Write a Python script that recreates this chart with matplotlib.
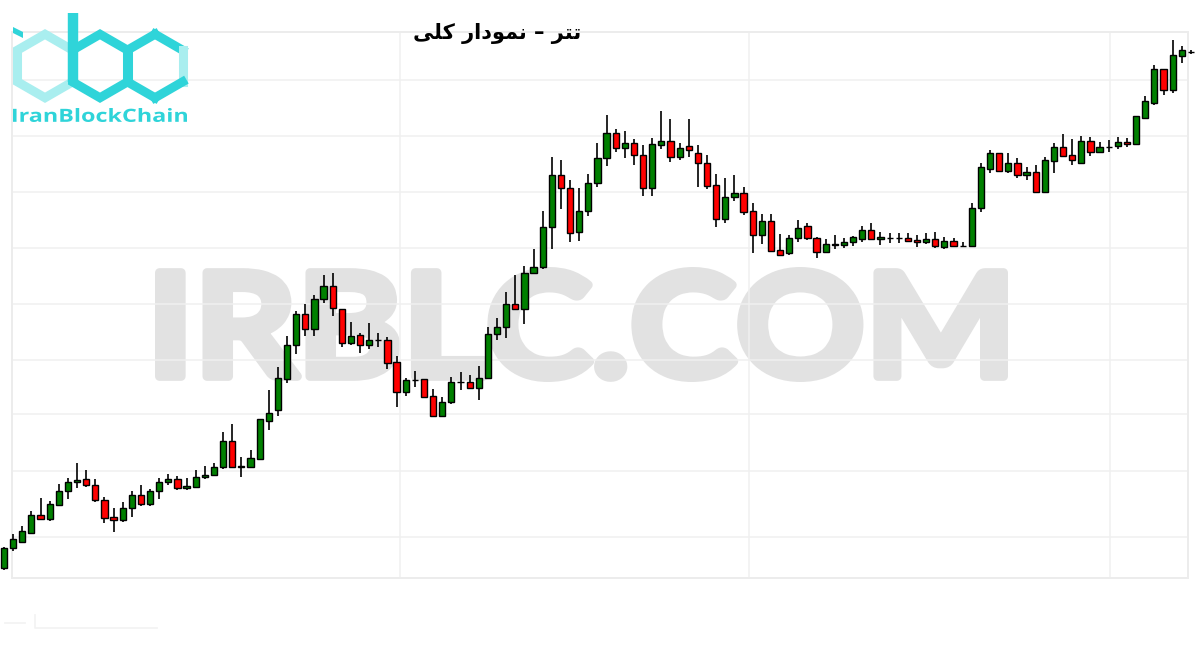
"""
Tether (USDT) overall candlestick chart with IRBLC watermark and logo.
"""

import numpy as np
import matplotlib
matplotlib.use("Agg")
import matplotlib.pyplot as plt
from matplotlib.textpath import TextPath
from matplotlib.font_manager import FontProperties
from matplotlib.patches import PathPatch, Polygon
from matplotlib.transforms import Affine2D

# ============================================================
# data (relative price level)
# ============================================================
opens = [
    32, 52, 58, 67, 85, 81, 95, 109, 118, 121, 115, 100, 83, 80, 92, 105, 96, 109, 118, 121,
    112, 113, 123, 125, 133, 159, 133, 133, 141, 179, 190, 221, 255, 286, 271, 301, 314, 291, 257, 265,
    255, 260, 260, 238, 208, 220, 221, 204, 184, 198, 218, 218, 212, 222, 266, 273, 296, 291, 327, 333,
    373, 425, 412, 368, 389, 417, 442, 467, 452, 457, 445, 412, 455, 459, 443, 454, 447, 437, 415, 381,
    403, 407, 389, 365, 379, 350, 347, 362, 374, 362, 348, 355, 355, 358, 361, 370, 361, 362, 362, 362,
    360, 358, 361, 353, 359, 354, 354, 392, 431, 447, 429, 437, 425, 428, 408, 439, 453, 445, 437, 459,
    448, 453, 454, 458, 456, 482, 497, 531, 510, 544, 548,
]
highs = [
    53, 66, 74, 89, 102, 99, 116, 122, 137, 130, 121, 103, 92, 98, 109, 115, 111, 122, 126, 124,
    122, 130, 134, 137, 168, 176, 143, 150, 181, 210, 233, 264, 289, 296, 305, 325, 327, 291, 278, 267,
    277, 267, 263, 244, 222, 229, 221, 211, 203, 223, 228, 225, 234, 273, 282, 308, 325, 334, 351, 389,
    443, 440, 420, 412, 426, 457, 485, 471, 469, 461, 455, 462, 489, 481, 457, 481, 455, 445, 426, 422,
    425, 413, 397, 386, 386, 366, 365, 380, 377, 363, 361, 365, 362, 364, 374, 377, 368, 367, 367, 367,
    365, 367, 368, 363, 362, 358, 397, 437, 450, 447, 447, 442, 433, 435, 443, 457, 466, 461, 464, 463,
    458, 460, 463, 462, 484, 504, 535, 531, 560, 554, 550,
]
lows = [
    30, 49, 57, 66, 80, 79, 94, 101, 112, 113, 98, 77, 68, 78, 83, 94, 94, 101, 115, 110,
    110, 113, 121, 124, 131, 133, 123, 133, 141, 170, 184, 217, 246, 264, 264, 297, 284, 253, 255, 247,
    251, 253, 231, 193, 204, 213, 202, 183, 183, 196, 210, 211, 200, 221, 260, 262, 291, 276, 327, 331,
    351, 391, 358, 359, 384, 413, 434, 448, 442, 435, 404, 404, 451, 438, 440, 443, 413, 411, 373, 377,
    399, 385, 347, 356, 348, 345, 345, 358, 360, 342, 347, 351, 352, 354, 358, 360, 355, 357, 357, 358,
    353, 356, 352, 351, 353, 353, 353, 388, 427, 429, 427, 422, 420, 407, 408, 427, 443, 435, 436, 444,
    447, 448, 451, 453, 456, 481, 495, 505, 507, 537, 546,
]
closes = [
    52, 61, 69, 85, 81, 96, 109, 118, 120, 115, 100, 82, 80, 92, 105, 96, 109, 118, 121, 112,
    114, 123, 125, 133, 159, 133, 134, 142, 181, 187, 222, 255, 286, 271, 301, 314, 292, 257, 264, 255,
    260, 260, 237, 208, 220, 220, 203, 184, 198, 218, 218, 212, 222, 266, 273, 296, 291, 327, 333, 373,
    425, 412, 367, 389, 417, 442, 467, 452, 457, 445, 412, 456, 459, 443, 452, 450, 437, 414, 381, 403,
    407, 388, 365, 379, 349, 345, 362, 372, 362, 348, 356, 356, 358, 363, 370, 361, 363, 362, 362, 359,
    358, 361, 354, 359, 354, 354, 392, 433, 447, 429, 437, 425, 428, 408, 440, 453, 444, 440, 459, 448,
    453, 453, 458, 456, 484, 499, 531, 510, 545, 550, 548,
]

TITLE = "\uFBFD\uFEE0\uFB90 \uFEAD\uFE8D\uFEA9\uFEEE\uFEE4\uFEE7 \u2013 \uFEAE\uFE98\uFE97"  # تتر – نمودار کلی
WATERMARK = "IRBLC.COM"
LOGO_TEXT = "IranBlockChain"

UP_COLOR = "#008000"
DOWN_COLOR = "#ff0000"
CYAN = "#2fd4d9"
CYAN_LIGHT = "#a9eeef"
GRID_COLOR = "#f0f0f0"
WM_COLOR = "#e2e2e2"

W, H = 1200, 650
X0_PX, STEP_PX = 4.0, 9.13  # candle 0 center / spacing in pixels


def fit_text(ax, s, x0, y0, x1, y1, color, family="DejaVu Sans", weight="bold",
             zorder=1, grow=0.0):
    """Draw s as a path stretched into the pixel box (x0, y0)-(x1, y1) of a y-down axes.
    grow: extra stroke (px) to fatten the glyphs, box is shrunk to compensate."""
    path = TextPath((0, 0), s, size=100, prop=FontProperties(family=family, weight=weight))
    bb = path.get_extents()
    g = grow / 2
    tr = (Affine2D().translate(-bb.x0, -bb.y0)
          .scale((x1 - x0 - grow) / bb.width, -(y1 - y0 - grow) / bb.height)
          .translate(x0 + g, y1 - g))
    ax.add_patch(PathPatch(tr.transform_path(path), fc=color, ec=color if grow else "none",
                           lw=grow * 0.72, joinstyle="round", zorder=zorder))


def pixel_axes(fig, zorder):
    ax = fig.add_axes([0, 0, 1, 1], zorder=zorder)
    ax.set_xlim(0, W)
    ax.set_ylim(H, 0)
    ax.axis("off")
    ax.patch.set_alpha(0)
    return ax


def hexagon(cx, cy, w):
    r = w / np.cos(np.pi / 6)
    return [(cx, cy - r), (cx + w, cy - r / 2), (cx + w, cy + r / 2),
            (cx, cy + r), (cx - w, cy + r / 2), (cx - w, cy - r / 2)]


def draw_logo(ax):
    lw = 6.5
    i_hex = hexagon(45, 66, 27.5)
    ax.add_patch(Polygon(i_hex, closed=True, fill=False, ec=CYAN_LIGHT, lw=lw, joinstyle="miter"))
    b_hex = hexagon(100, 66, 27.5)
    ax.add_patch(Polygon(b_hex, closed=True, fill=False, ec=CYAN, lw=lw, joinstyle="miter"))
    c_hex = hexagon(155, 66, 27.5)
    for k in range(6):
        p, q = c_hex[k], c_hex[(k + 1) % 6]
        col = CYAN_LIGHT if k == 1 else CYAN
        ax.plot([p[0], q[0]], [p[1], q[1]], color=col, lw=lw, solid_capstyle="projecting")
    # stem of the b and dot of the i
    ax.plot([72.5, 72.5], [13, b_hex[4][1]], color=CYAN, lw=lw + 1, solid_capstyle="butt")
    ax.add_patch(Polygon([(13, 27), (23, 32), (23, 38), (13, 33)], closed=True, fc=CYAN, ec="none"))
    fit_text(ax, LOGO_TEXT, 13, 108, 187, 122, CYAN, family="Open Sans", weight="bold")


def main():
    fig = plt.figure(figsize=(W / 100, H / 100), dpi=100)
    fig.patch.set_facecolor("white")

    # watermark (bottom layer)
    ax_wm = pixel_axes(fig, zorder=0)
    fit_text(ax_wm, WATERMARK, 155, 267, 1008, 382, WM_COLOR, family="Lato", weight="bold",
             grow=9)

    # frame + faint grid
    ax_bg = fig.add_axes([12 / W, (H - 578) / H, 1176 / W, 546 / H], zorder=1)
    ax_bg.patch.set_alpha(0)
    ax_bg.set_xlim(12, 1188)
    ax_bg.set_ylim(578, 32)
    ax_bg.set_xticks([400, 749, 1110])
    ax_bg.set_yticks([80, 136, 192, 248, 304, 360, 414, 471, 537])
    ax_bg.tick_params(length=0, labelleft=False, labelbottom=False)
    ax_bg.grid(True, color=GRID_COLOR, lw=1.1)
    for sp in ax_bg.spines.values():
        sp.set_color("#ececec")
        sp.set_linewidth(1.4)

    # candles
    ax = fig.add_axes([0, 0, 1, 1], zorder=2)
    ax.patch.set_alpha(0)
    o = np.array(opens, float)
    h = np.array(highs, float)
    l = np.array(lows, float)
    c = np.array(closes, float)
    x = np.arange(len(o))
    colors = [UP_COLOR if cc >= oo else DOWN_COLOR for oo, cc in zip(o, c)]
    ax.vlines(x, l, h, color="black", lw=1.2, zorder=2)
    ax.bar(x, np.abs(c - o), bottom=np.minimum(o, c), width=0.68, color=colors,
           edgecolor="black", linewidth=1.0, zorder=3)
    ax.set_xlim(-X0_PX / STEP_PX, (W - X0_PX) / STEP_PX)
    ax.set_ylim(-50, 600)
    ax.axis("off")

    # logo + title on top
    ax_top = pixel_axes(fig, zorder=3)
    draw_logo(ax_top)
    ax_top.text(497, 33, TITLE, ha="center", va="center", fontsize=15, fontweight="bold",
                family=["DejaVu Sans"], color="black")

    # faint leftover marks under the frame
    ax_top.plot([5, 25], [623, 623], color="#f2f2f2", lw=1.2)
    ax_top.plot([35, 35, 157], [615, 628, 628], color="#f2f2f2", lw=1.2)

    fig.savefig("out.png", dpi=100, facecolor="white")


if __name__ == "__main__":
    main()
